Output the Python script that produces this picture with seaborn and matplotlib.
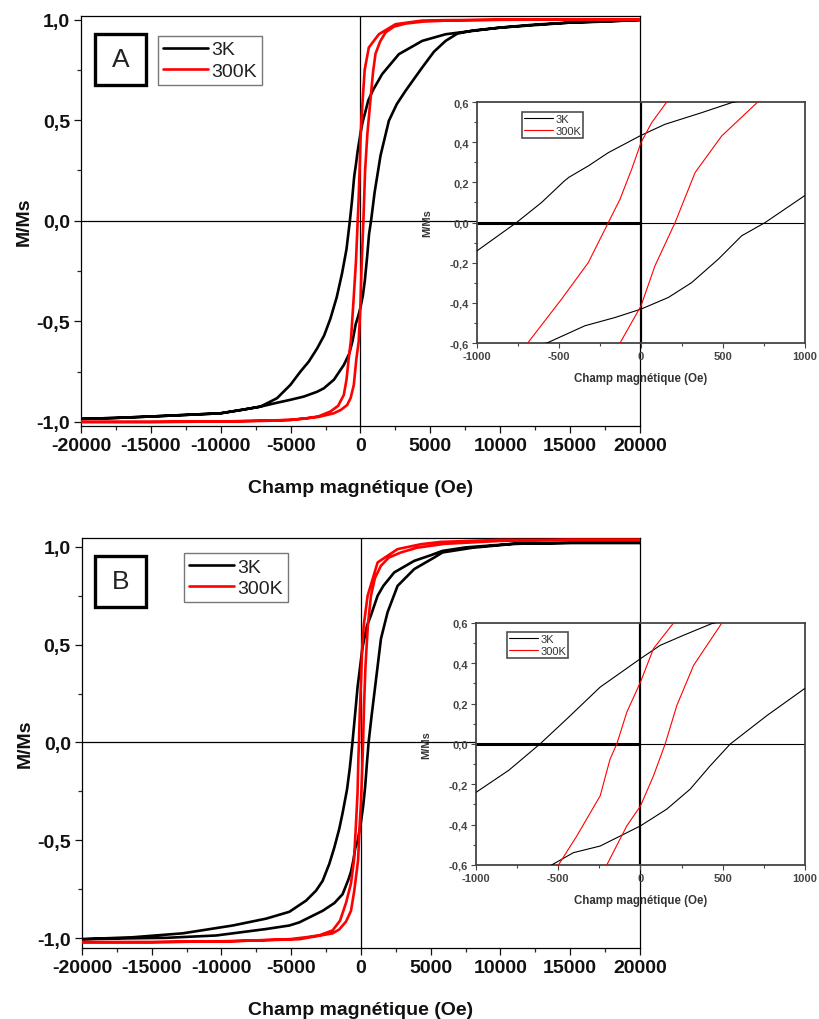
import numpy as np
import pandas as pd
import matplotlib.pyplot as plt
import seaborn as sns
from matplotlib.ticker import MultipleLocator, FuncFormatter
from matplotlib.patches import Rectangle
from matplotlib.lines import Line2D

# ---- panel A : descending (+H -> -H) and ascending (-H -> +H) branches ----
a3_down_h = [20000, 15000, 10000, 7000, 6093, 4420, 2748, 1553, 900, 553, 370, 146, 0, -199, -321, -440,
             -470, -606, -759, -1000, -1315, -1700, -2150, -2600, -3106, -3700, -4301, -5018, -5973,
             -7168, -8500, -10035, -12500, -15053, -17500, -20000]
a3_down_m = [0.998, 0.985, 0.96, 0.935, 0.927, 0.894, 0.828, 0.729, 0.65, 0.597, 0.547, 0.489, 0.434, 0.348,
             0.282, 0.225, 0.205, 0.1, 0.0, -0.141, -0.26, -0.38, -0.486, -0.57, -0.635, -0.70, -0.75,
             -0.816, -0.882, -0.924, -0.94, -0.957, -0.965, -0.973, -0.98, -0.985]
a3_up_h = [-20000, -17500, -15000, -12500, -10000, -8500, -7168, -6000, -5018, -4062, -3106, -2628, -1900,
           -1195, -800, -566, -342, -159, 0, 167, 309, 472, 614, 757, 1011, 1434, 2031, 2600, 3226, 4420,
           5256, 6093, 6930, 8000, 10000, 12500, 15000, 17500, 20000]
a3_up_m = [-0.985, -0.98, -0.973, -0.965, -0.957, -0.94, -0.924, -0.905, -0.89, -0.874, -0.85, -0.833, -0.79,
           -0.717, -0.66, -0.597, -0.514, -0.473, -0.431, -0.373, -0.299, -0.182, -0.066, 0.0, 0.141, 0.324,
           0.497, 0.58, 0.646, 0.762, 0.84, 0.894, 0.93, 0.945, 0.96, 0.975, 0.985, 0.99, 0.998]

a300_down_h = [20000, 15000, 10000, 6000, 4420, 2509, 1314, 597, 300, 157, 65, 0, -57, -128, -199, -321,
               -484, -688, -836, -1000, -1195, -1600, -2150, -3000, -3823, -5018, -7000, -10000, -15000, -20000]
a300_down_m = [1.0, 1.0, 0.999, 0.997, 0.995, 0.977, 0.927, 0.861, 0.75, 0.6, 0.497, 0.398, 0.265, 0.116,
               0.0, -0.199, -0.381, -0.597, -0.68, -0.79, -0.866, -0.92, -0.948, -0.972, -0.982, -0.99,
               -0.995, -0.998, -1.0, -1.0]
a300_up_h = [-20000, -15000, -10000, -5018, -3000, -1912, -1400, -956, -700, -478, -300, -128, 0, 85, 208,
             330, 492, 712, 900, 1075, 1400, 1792, 2400, 3226, 4500, 6213, 10000, 15000, 20000]
a300_up_m = [-1.0, -1.0, -0.998, -0.99, -0.975, -0.957, -0.94, -0.916, -0.88, -0.816, -0.69, -0.6, -0.415,
             -0.216, 0.0, 0.249, 0.431, 0.6, 0.74, 0.83, 0.89, 0.936, 0.965, 0.98, 0.99, 0.995, 0.999, 1.0, 1.0]

# ---- panel B ----
b3_down_h = [20000, 15000, 10855, 7518, 5845, 5011, 3817, 2385, 1600, 1193, 716, 434, 262, 120, 0, -144,
             -245, -448, -611, -800, -1000, -1317, -1553, -1912, -2270, -2749, -3222, -3938, -5134, -6802,
             -9193, -12773, -16353, -20000]
b3_down_m = [1.02, 1.02, 1.015, 0.997, 0.979, 0.957, 0.928, 0.869, 0.80, 0.75, 0.65, 0.597, 0.539, 0.489,
             0.423, 0.34, 0.282, 0.124, 0.0, -0.13, -0.24, -0.36, -0.44, -0.537, -0.62, -0.707, -0.757,
             -0.808, -0.865, -0.9, -0.935, -0.975, -0.995, -1.005]
b3_up_h = [-20000, -16000, -13962, -10382, -6802, -5134, -4418, -2749, -1900, -1317, -900, -716, -540,
           -408, -245, -83, 0, 160, 302, 424, 546, 769, 1002, 1432, 1909, 2623, 3817, 5249, 5845, 7990,
           11000, 15000, 20000]
b3_up_m = [-1.005, -1.0, -0.998, -0.986, -0.953, -0.935, -0.919, -0.86, -0.82, -0.775, -0.70, -0.66, -0.6,
           -0.539, -0.506, -0.44, -0.406, -0.323, -0.224, -0.108, 0.0, 0.141, 0.277, 0.53, 0.666, 0.80,
           0.886, 0.945, 0.971, 0.995, 1.015, 1.02, 1.02]

b300_down_h = [20000, 15000, 9902, 5728, 4296, 2623, 1193, 477, 201, 79, 0, -83, -144, -185, -245, -387,
               -499, -716, -1074, -1500, -2033, -2986, -3938, -5134, -9193, -15000, -20000]
b300_down_m = [1.035, 1.035, 1.035, 1.025, 1.013, 0.988, 0.92, 0.75, 0.6, 0.473, 0.307, 0.158, 0.0, -0.075,
               -0.257, -0.456, -0.6, -0.72, -0.82, -0.91, -0.96, -0.985, -0.995, -1.005, -1.015, -1.02, -1.02]
b300_up_h = [-20000, -15000, -9193, -4395, -2033, -1553, -1074, -716, -480, -205, -83, 0, 79, 150, 221,
             323, 495, 716, 1000, 1432, 2000, 2862, 4000, 6000, 10000, 15000, 20000]
b300_up_m = [-1.02, -1.02, -1.015, -1.005, -0.975, -0.955, -0.915, -0.86, -0.757, -0.6, -0.406, -0.307,
             -0.158, 0.0, 0.191, 0.39, 0.6, 0.75, 0.84, 0.903, 0.945, 0.971, 0.995, 1.015, 1.03, 1.035, 1.035]

temps = ['3K', '300K']
colors = {'3K': 'black', '300K': 'red'}


def loop_frame(t, down_h, down_m, up_h, up_m):
    return pd.DataFrame({'H': down_h + up_h, 'M': down_m + up_m, 'T': t})


df_a = pd.concat([loop_frame('3K', a3_down_h, a3_down_m, a3_up_h, a3_up_m),
                  loop_frame('300K', a300_down_h, a300_down_m, a300_up_h, a300_up_m)], ignore_index=True)
df_b = pd.concat([loop_frame('3K', b3_down_h, b3_down_m, b3_up_h, b3_up_m),
                  loop_frame('300K', b300_down_h, b300_down_m, b300_up_h, b300_up_m)], ignore_index=True)

sns.set_style('white')
plt.rcParams['font.family'] = ['Liberation Sans', 'DejaVu Sans']
plt.rcParams['axes.unicode_minus'] = False


def comma(v, pos):
    if abs(v) < 1e-9:
        v = 0.0
    return f"{v:.1f}".replace('.', ',')


def handles(lw):
    return [Line2D([], [], color=colors[t], lw=lw) for t in temps]


def draw_main(rect, df, ylim, letter, box_xy, leg_anchor):
    ax = fig.add_axes(rect)
    sns.lineplot(data=df, x='H', y='M', hue='T', hue_order=temps, palette=colors, sort=False,
                 estimator=None, lw=1.9, ax=ax, legend=False, zorder=3)
    ax.axhline(0, color='black', lw=0.9, zorder=1)
    ax.axvline(0, color='black', lw=0.9, zorder=1)
    ax.set_xlim(-20000, 20000)
    ax.set_ylim(*ylim)
    ax.xaxis.set_major_locator(MultipleLocator(5000))
    ax.xaxis.set_minor_locator(MultipleLocator(2500))
    ax.yaxis.set_major_locator(MultipleLocator(0.5))
    ax.yaxis.set_minor_locator(MultipleLocator(0.25))
    ax.yaxis.set_major_formatter(FuncFormatter(comma))
    ax.tick_params(which='major', direction='out', length=5, width=0.9, pad=3, labelsize=14,
                   bottom=True, left=True, colors='#111111')
    ax.tick_params(which='minor', direction='out', length=3, width=0.9, bottom=True, left=True)
    for lab in ax.get_xticklabels() + ax.get_yticklabels():
        lab.set_fontweight('bold')
    for s in ax.spines.values():
        s.set_color('black')
        s.set_linewidth(0.9)
    ax.set_xlabel('Champ magnétique (Oe)', fontsize=14, fontweight='bold', color='#111111')
    ax.set_ylabel('M/Ms', fontsize=14, fontweight='bold', color='#111111')
    ax.xaxis.set_label_coords(0.5, -0.13)
    ax.yaxis.set_label_coords(-0.086, 0.5)
    ax.add_patch(Rectangle(box_xy, 0.0912, 0.1244, transform=ax.transAxes, fill=False,
                           lw=2.4, ec='black', zorder=5))
    ax.text(box_xy[0] + 0.0456, box_xy[1] + 0.0622, letter, transform=ax.transAxes, fontsize=19,
            ha='center', va='center', color='#222222')
    leg = ax.legend(handles(1.9), temps, loc='upper left', bbox_to_anchor=leg_anchor, borderaxespad=0,
                    fontsize=14, frameon=True, fancybox=False, edgecolor='#555555', handlelength=2.3,
                    handletextpad=0.2, labelspacing=0.2, borderpad=0.25, labelcolor='#222222')
    leg.get_frame().set_linewidth(1.0)
    return ax


def draw_inset(rect, df, leg_anchor):
    ax = fig.add_axes(rect, zorder=4)
    ax.set_facecolor('white')
    sns.lineplot(data=df, x='H', y='M', hue='T', hue_order=temps, palette=colors, sort=False,
                 estimator=None, lw=0.8, ax=ax, legend=False, zorder=3)
    ax.axhline(0, color='black', lw=0.8, zorder=1)
    ax.hlines(0, -1000, 0, color='black', lw=2.2, zorder=1)
    ax.axvline(0, color='black', lw=1.6, zorder=1)
    ax.set_xlim(-1000, 1000)
    ax.set_ylim(-0.6, 0.6)
    ax.xaxis.set_major_locator(MultipleLocator(500))
    ax.xaxis.set_minor_locator(MultipleLocator(250))
    ax.yaxis.set_major_locator(MultipleLocator(0.2))
    ax.yaxis.set_minor_locator(MultipleLocator(0.1))
    ax.yaxis.set_major_formatter(FuncFormatter(comma))
    ax.tick_params(which='major', direction='out', length=3.5, width=0.8, pad=2, labelsize=8,
                   bottom=True, left=True, colors='#444444')
    ax.tick_params(which='minor', direction='out', length=2, width=0.8, bottom=True, left=True,
                   colors='#444444')
    for lab in ax.get_xticklabels() + ax.get_yticklabels():
        lab.set_fontweight('bold')
    for s in ax.spines.values():
        s.set_color('#444444')
        s.set_linewidth(1.3)
    ax.set_xlabel('Champ magnétique (Oe)', fontsize=8.3, fontweight='bold', color='#333333')
    ax.set_ylabel('M/Ms', fontsize=8, fontweight='bold', color='#333333')
    ax.xaxis.set_label_coords(0.5, -0.12)
    ax.yaxis.set_label_coords(-0.137, 0.5)
    leg = ax.legend(handles(0.8), temps, loc='upper left', bbox_to_anchor=leg_anchor, borderaxespad=0,
                    fontsize=8, frameon=True, fancybox=False, edgecolor='#222222', handlelength=2.6,
                    handletextpad=0.2, labelspacing=0.15, borderpad=0.2, labelcolor='#333333')
    leg.get_frame().set_linewidth(1.2)
    return ax


fig = plt.figure(figsize=(8.19, 10.20), dpi=100)

draw_main([0.0989, 0.5814, 0.6825, 0.4020], df_a, (-1.02, 1.018), 'A', (0.025, 0.832), (0.138, 0.951))
draw_inset([0.5824, 0.6627, 0.4005, 0.2363], df_a, (0.137, 0.958))

draw_main([0.1001, 0.0696, 0.6813, 0.4020], df_b, (-1.05, 1.045), 'B', (0.0233, 0.832), (0.183, 0.963))
draw_inset([0.5812, 0.1510, 0.4017, 0.2373], df_b, (0.094, 0.963))

fig.savefig('out.png', dpi=100)
